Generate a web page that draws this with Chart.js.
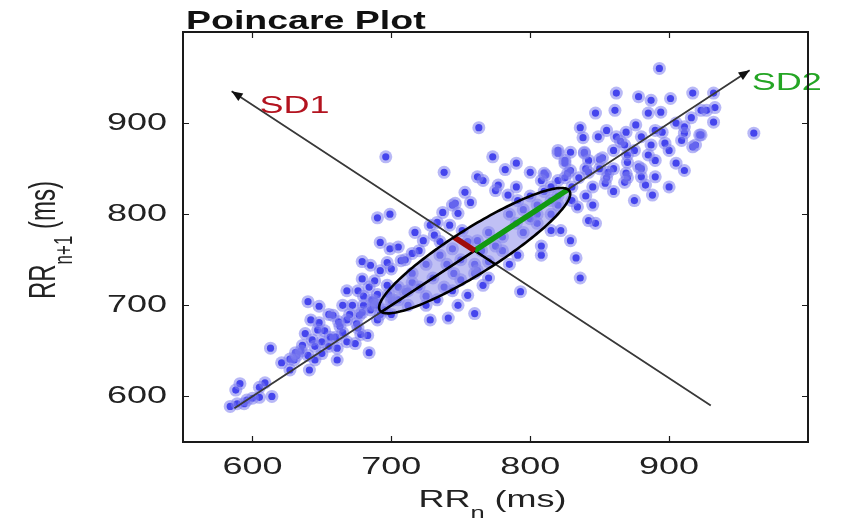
<!DOCTYPE html>
<html>
<head>
<meta charset="utf-8">
<script src="https://cdn.jsdelivr.net/npm/chart.js@4/dist/chart.umd.min.js"></script>
<style>
  html, body { margin: 0; padding: 0; background: #fff; }
  canvas { display: block; }
</style>
</head>
<body>
<canvas id="poincare" width="846" height="522"></canvas>
<script>
// RR interval pairs (ms)
const rrN = [
  584, 589, 594, 600, 588, 591, 605, 609, 614, 596, 605, 613, 627, 631, 627, 641,
  661, 684, 640, 648, 668, 677, 648, 663, 636, 643, 638, 647, 656, 665, 674, 668,
  676, 658, 665, 679, 687, 690, 683, 650, 661, 632, 621, 672, 680, 690, 685, 695,
  690, 699, 717, 723, 731, 692, 699, 705, 715, 679, 685, 692, 697, 684, 688, 707,
  737, 744, 748, 757, 728, 742, 728, 741, 760, 762, 705, 676, 686, 697, 701, 712, 679,
  738, 773, 790, 782, 762, 753, 746, 775, 784, 791, 800, 808, 820, 825, 839, 827,
  834, 845, 847, 842, 829, 833, 808, 791, 815, 822, 766, 777, 836, 793, 808,
  893, 862, 878, 887, 901, 917, 847, 861, 885, 894, 916, 923, 836, 855, 869, 876,
  890, 911, 922, 838, 849, 862, 868, 887, 897, 909, 917, 820, 829, 839, 825, 842,
  852, 870, 878, 890, 905, 911, 829, 842, 856, 869, 880, 890, 811, 820, 854, 868, 883,
  932, 927, 933, 932, 911, 923, 961, 919, 696, 763, 888, 900, 875,
  744, 755, 766, 748, 733, 733, 751, 762, 744,
  700, 710, 720, 715, 730, 740, 735, 750, 755, 765, 770, 780, 790, 785, 800, 805,
  815, 810, 820, 725, 745, 760, 775, 795, 705, 690, 700, 712,
  805, 815, 820, 830, 840, 835, 850, 860, 855, 870, 845,
  630, 635, 640, 645, 650, 655, 660, 652, 662, 670, 675, 680, 688, 692, 698, 645,
  668, 678, 655, 642,
  700, 710, 720, 725, 735, 715, 725, 738, 750, 760, 770, 780, 770, 785,
  790, 800, 810, 815, 825, 795, 805, 830, 840, 850, 860, 865, 875, 880, 885, 895,
  900, 905, 860, 870, 880
];
const rrN1 = [
  589, 592, 592, 598, 607, 614, 610, 615, 600, 596, 599, 653, 641, 648, 629, 629,
  640, 648, 704, 699, 716, 689, 681, 677, 656, 662, 669, 673, 665, 670, 658, 684,
  675, 689, 700, 692, 700, 684, 667, 647, 653, 645, 637, 700, 710, 712, 695, 695,
  796, 800, 780, 771, 777, 769, 762, 764, 757, 748, 744, 738, 747, 720, 727, 749,
  802, 810, 801, 813, 788, 788, 684, 686, 691, 738, 706, 716, 706, 722, 706, 716, 729,
  846, 863, 856, 849, 841, 824, 812, 826, 821, 815, 846, 837, 867, 856, 867, 845,
  808, 810, 790, 793, 771, 752, 755, 755, 782, 782, 837, 832, 730, 715, 765,
  960, 933, 929, 925, 927, 933, 911, 914, 911, 912, 906, 914, 895, 892, 890, 898,
  892, 896, 887, 884, 885, 885, 876, 876, 878, 881, 874, 870, 868, 868, 859, 859,
  862, 857, 852, 859, 856, 848, 848, 846, 846, 845, 841, 841, 843, 837, 834, 835, 832,
  933, 914, 917, 901, 889, 887, 889, 876, 863, 895, 821, 830, 815,
  716, 711, 722, 700, 706, 791, 782, 771, 762,
  705, 715, 720, 735, 730, 745, 755, 750, 770, 760, 780, 775, 790, 800, 795, 810,
  815, 825, 820, 710, 735, 745, 765, 805, 720, 700, 690, 700,
  790, 800, 810, 830, 820, 840, 850, 870, 840, 865, 830,
  640, 650, 645, 655, 660, 655, 665, 672, 682, 690, 680, 700, 705, 690, 712, 640,
  660, 668, 690, 684,
  740, 750, 760, 745, 770, 725, 700, 720, 728, 735, 748, 760, 730, 745,
  830, 820, 845, 830, 840, 780, 800, 815, 850, 860, 850, 880, 870, 885, 865, 890,
  870, 900, 825, 840, 850
];

const axisTicks = [600, 700, 800, 900];
const axisMin = 550, axisMax = 1000;

// ellipse fit (ms)
const centre = 760;
const sd1 = 21;
const sd2 = 95;
const identityFrom = 587, identityTo = 958;     // along RRn+1 = RRn
const sd1AxisFrom = [930, 590], sd1AxisTo = [585, 935];

const points = rrN.map((v, i) => ({x: v, y: rrN1[i]}));
const FONT = '"Liberation Sans", Arial, Helvetica, sans-serif';
const SX = 1.5;   // the figure is stretched horizontally

function stretchedText(ctx, str, x, y, font, color, align, baseline) {
  ctx.save();
  ctx.translate(x, y);
  ctx.scale(SX, 1);
  ctx.font = font;
  ctx.fillStyle = color;
  ctx.textAlign = align || 'left';
  ctx.textBaseline = baseline || 'alphabetic';
  ctx.fillText(str, 0, 0);
  ctx.restore();
}

function arrowHead(ctx, x0, y0, x1, y1) {
  const ang = Math.atan2(y1 - y0, x1 - x0);
  const len = 11, w = 4.5;
  ctx.beginPath();
  ctx.moveTo(x1, y1);
  ctx.lineTo(x1 - len * Math.cos(ang) + w * Math.sin(ang), y1 - len * Math.sin(ang) - w * Math.cos(ang));
  ctx.lineTo(x1 - len * Math.cos(ang) - w * Math.sin(ang), y1 - len * Math.sin(ang) + w * Math.cos(ang));
  ctx.closePath();
  ctx.fillStyle = '#111';
  ctx.fill();
}

const decor = {
  id: 'decor',
  afterDatasetsDraw(chart) {
    const {ctx, chartArea: a} = chart;
    const sx = chart.scales.x, sy = chart.scales.y;
    const px = v => sx.getPixelForValue(v), py = v => sy.getPixelForValue(v);
    const r = Math.SQRT1_2;

    ctx.save();
    ctx.beginPath();
    ctx.rect(a.left, a.top, a.right - a.left, a.bottom - a.top);
    ctx.clip();

    const ell = new Path2D();
    for (let i = 0; i <= 180; i++) {
      const t = i / 180 * 2 * Math.PI;
      const ex = centre + sd2 * Math.cos(t) * r - sd1 * Math.sin(t) * r;
      const ey = centre + sd2 * Math.cos(t) * r + sd1 * Math.sin(t) * r;
      if (i === 0) ell.moveTo(px(ex), py(ey)); else ell.lineTo(px(ex), py(ey));
    }
    ell.closePath();
    ctx.fillStyle = 'rgba(140,140,235,0.55)';
    ctx.fill(ell);

    // guide lines
    ctx.strokeStyle = '#383838';
    ctx.lineWidth = 1.8;
    ctx.beginPath();
    ctx.moveTo(px(identityFrom), py(identityFrom));
    ctx.lineTo(px(identityTo), py(identityTo));
    ctx.moveTo(px(sd1AxisFrom[0]), py(sd1AxisFrom[1]));
    ctx.lineTo(px(sd1AxisTo[0]), py(sd1AxisTo[1]));
    ctx.stroke();

    // other halves of the axes, black
    const cx = px(centre), cy = py(centre);
    ctx.strokeStyle = '#000';
    ctx.lineWidth = 2.5;
    ctx.beginPath();
    ctx.moveTo(cx, cy);
    ctx.lineTo(px(centre - sd2 * r), py(centre - sd2 * r));
    ctx.moveTo(cx, cy);
    ctx.lineTo(px(centre + sd1 * r), py(centre - sd1 * r));
    ctx.stroke();

    // SD2 segment
    ctx.lineCap = 'butt';
    ctx.lineWidth = 5.5;
    ctx.strokeStyle = '#129a12';
    ctx.beginPath();
    ctx.moveTo(cx, cy);
    ctx.lineTo(px(centre + sd2 * r), py(centre + sd2 * r));
    ctx.stroke();
    // SD1 segment
    ctx.strokeStyle = '#a00c0c';
    ctx.beginPath();
    ctx.moveTo(cx, cy);
    ctx.lineTo(px(centre - sd1 * r), py(centre + sd1 * r));
    ctx.stroke();

    ctx.strokeStyle = '#000';
    ctx.lineWidth = 2.6;
    ctx.stroke(ell);
    ctx.restore();

    arrowHead(ctx, px(identityFrom), py(identityFrom), px(identityTo), py(identityTo));
    arrowHead(ctx, px(sd1AxisFrom[0]), py(sd1AxisFrom[1]), px(sd1AxisTo[0]), py(sd1AxisTo[1]));

    stretchedText(ctx, 'SD1', px(sd1AxisTo[0]) + 28, py(sd1AxisTo[1]) + 22, '24px ' + FONT, '#b3131f');
    stretchedText(ctx, 'SD2', px(identityTo) + 2, py(identityTo) + 20, '24px ' + FONT, '#24a524');
  },
  afterDraw(chart) {
    const {ctx, chartArea: a} = chart;
    const sx = chart.scales.x, sy = chart.scales.y;

    // box with inward ticks
    ctx.save();
    ctx.strokeStyle = '#1a1a1a';
    ctx.lineWidth = 2;
    ctx.strokeRect(a.left, a.top, a.right - a.left, a.bottom - a.top);
    ctx.lineWidth = 1.2;
    ctx.beginPath();
    axisTicks.forEach(v => {
      const x = Math.round(sx.getPixelForValue(v)) + 0.5;
      const y = Math.round(sy.getPixelForValue(v)) + 0.5;
      ctx.moveTo(x, a.bottom); ctx.lineTo(x, a.bottom - 6);
      ctx.moveTo(x, a.top); ctx.lineTo(x, a.top + 6);
      ctx.moveTo(a.left, y); ctx.lineTo(a.left + 6, y);
      ctx.moveTo(a.right, y); ctx.lineTo(a.right - 6, y);
    });
    ctx.stroke();
    ctx.restore();

    const tickFont = '24px ' + FONT;
    axisTicks.forEach(v => {
      stretchedText(ctx, String(v), sx.getPixelForValue(v), a.bottom + 25, tickFont, '#222', 'center', 'middle');
      stretchedText(ctx, String(v), a.left - 16, sy.getPixelForValue(v), tickFont, '#222', 'right', 'middle');
    });

    // title
    stretchedText(ctx, 'Poincare Plot', a.left + 3, a.top - 3, 'bold 25px ' + FONT, '#111');

    // x axis title: RR_n (ms)
    ctx.save();
    ctx.font = '24px ' + FONT;
    const wRR = ctx.measureText('RR').width;
    const wRest = ctx.measureText(' (ms)').width;
    ctx.font = '17px ' + FONT;
    const wN = ctx.measureText('n').width;
    const wN1 = ctx.measureText('n+1').width;
    ctx.restore();

    ctx.save();
    const xTotal = (wRR + wN + wRest) * SX;
    ctx.translate((a.left + a.right) / 2 - xTotal / 2 - 3, a.bottom + 65);
    ctx.scale(SX, 1);
    ctx.fillStyle = '#222';
    ctx.font = '24px ' + FONT;
    ctx.fillText('RR', 0, 0);
    ctx.fillText(' (ms)', wRR + wN, 0);
    ctx.font = '17px ' + FONT;
    ctx.fillText('n', wRR, 11);
    ctx.restore();

    // y axis title: RR_{n+1} (ms)
    ctx.save();
    const yTotal = wRR + wN1 + wRest;
    ctx.translate(55, (a.top + a.bottom) / 2 + 3);
    ctx.scale(SX, 1);
    ctx.rotate(-Math.PI / 2);
    ctx.fillStyle = '#222';
    ctx.font = '24px ' + FONT;
    ctx.fillText('RR', -yTotal / 2, 0);
    ctx.fillText(' (ms)', -yTotal / 2 + wRR + wN1, 0);
    ctx.font = '17px ' + FONT;
    ctx.fillText('n+1', -yTotal / 2 + wRR, 11);
    ctx.restore();
  }
};

new Chart(document.getElementById('poincare'), {
  type: 'scatter',
  data: {
    datasets: [
      {
        label: 'halo',
        data: points,
        order: 1,
        pointRadius: 6.5,
        pointHoverRadius: 6.5,
        backgroundColor: 'rgba(125,125,238,0.55)',
        borderWidth: 0
      },
      {
        label: 'RR',
        data: points,
        order: 2,
        pointRadius: 3.6,
        pointHoverRadius: 3.6,
        backgroundColor: 'rgb(0,0,235)',
        borderWidth: 0
      }
    ]
  },
  options: {
    responsive: false,
    devicePixelRatio: 1,
    animation: false,
    events: [],
    layout: {padding: {left: 183, right: 38, top: 32, bottom: 80}},
    plugins: {legend: {display: false}, tooltip: {enabled: false}, title: {display: false}},
    scales: {
      x: {type: 'linear', min: axisMin, max: axisMax, display: false},
      y: {type: 'linear', min: axisMin, max: axisMax, display: false}
    }
  },
  plugins: [decor]
});
</script>
</body>
</html>
